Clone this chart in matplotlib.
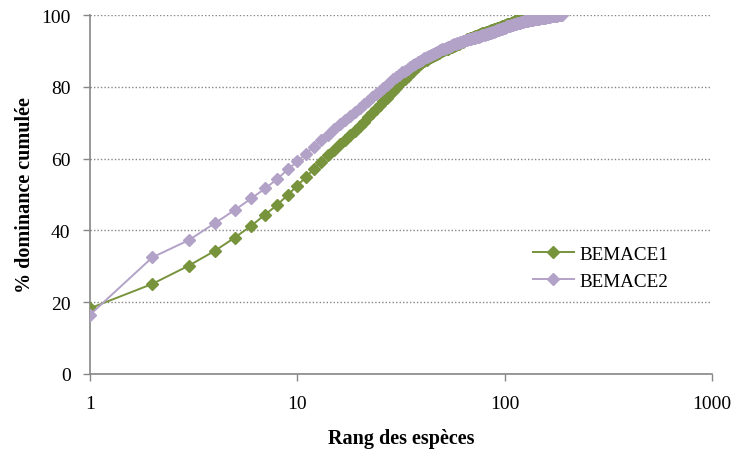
import matplotlib.pyplot as plt
from matplotlib.ticker import FixedLocator, NullLocator

# Cumulative dominance (%) by species rank
bemace1 = [18.3, 25.1, 30.2, 34.3, 38.0, 41.3, 44.4, 47.1, 49.9, 52.5,
           54.8, 57.1, 59.1, 60.9, 62.5, 64.0, 65.3, 66.5, 67.8, 69.0,
           70.3, 71.5, 72.7, 73.9, 75.0, 76.0, 77.0, 78.0, 78.9, 79.8,
           80.7, 81.5, 82.3, 83.1, 83.8, 84.5, 85.1, 85.7, 86.3, 86.8,
           87.2, 87.6, 88.0, 88.3, 88.6, 88.9, 89.2, 89.5, 89.8, 90.0,
           90.2, 90.4, 90.6, 90.8, 91.0, 91.2, 91.4, 91.6, 91.8, 92.0,
           92.2, 92.4, 92.6, 92.8, 93.0, 93.2, 93.4, 93.5, 93.7, 93.8,
           93.9, 94.1, 94.2, 94.4, 94.5, 94.6, 94.7, 94.9, 95.0, 95.1,
           95.2, 95.3, 95.4, 95.5, 95.6, 95.7, 95.8, 95.9, 96.0, 96.1,
           96.2, 96.3, 96.4, 96.5, 96.6, 96.7, 96.8, 96.9, 97.0, 97.1,
           97.2, 97.3, 97.4, 97.5, 97.6, 97.6, 97.7, 97.8, 97.9, 98.0,
           98.1, 98.2, 98.3, 98.3, 98.4, 98.5, 98.6, 98.7, 98.8, 98.8,
           98.9, 99.0, 99.0, 99.1, 99.2, 99.2, 99.3, 99.3, 99.4, 99.4,
           99.5, 99.5, 99.6, 99.6, 99.7, 99.7, 99.8, 99.8, 99.8, 99.9,
           99.9, 99.9, 99.9, 100.0, 100.0, 100.0]

bemace2 = [16.5, 32.5, 37.3, 42.0, 45.7, 48.9, 51.7, 54.3, 57.0, 59.2,
           61.4, 63.3, 65.1, 66.7, 68.2, 69.5, 70.7, 71.9, 73.0, 74.1,
           75.1, 76.1, 77.1, 78.0, 78.9, 79.8, 80.6, 81.4, 82.1, 82.8,
           83.4, 84.0, 84.5, 85.0, 85.5, 86.0, 86.4, 86.8, 87.2, 87.6,
           87.9, 88.2, 88.5, 88.8, 89.1, 89.4, 89.7, 90.0, 90.2, 90.4,
           90.6, 90.8, 91.0, 91.2, 91.4, 91.6, 91.8, 92.0, 92.1, 92.3,
           92.4, 92.5, 92.7, 92.8, 92.9, 93.0, 93.2, 93.3, 93.4, 93.5,
           93.6, 93.7, 93.8, 93.9, 94.0, 94.1, 94.2, 94.3, 94.4, 94.5,
           94.6, 94.7, 94.8, 94.9, 95.0, 95.1, 95.2, 95.3, 95.4, 95.5,
           95.6, 95.7, 95.8, 95.9, 96.0, 96.1, 96.2, 96.3, 96.4, 96.5,
           96.6, 96.7, 96.8, 96.9, 96.9, 97.0, 97.1, 97.2, 97.2, 97.3,
           97.4, 97.5, 97.5, 97.6, 97.7, 97.7, 97.8, 97.9, 97.9, 98.0,
           98.0, 98.1, 98.1, 98.2, 98.2, 98.3, 98.3, 98.4, 98.4, 98.5,
           98.5, 98.5, 98.6, 98.6, 98.7, 98.7, 98.7, 98.8, 98.8, 98.8,
           98.9, 98.9, 98.9, 99.0, 99.0, 99.0, 99.1, 99.1, 99.1, 99.2,
           99.2, 99.2, 99.2, 99.3, 99.3, 99.3, 99.3, 99.4, 99.4, 99.4,
           99.4, 99.5, 99.5, 99.5, 99.5, 99.6, 99.6, 99.6, 99.6, 99.7,
           99.7, 99.7, 99.7, 99.8, 99.8, 99.8, 99.8, 99.8, 99.9, 99.9,
           99.9, 99.9, 99.9, 100.0, 100.0, 100.0, 100.0, 100.0]

series_names = ['BEMACE1', 'BEMACE2']
x_ticks = [1, 10, 100, 1000]
y_ticks = [0, 20, 40, 60, 80, 100]

green = '#77933C'
purple = '#B3A2C7'
grey = '#868686'

plt.rcParams['font.family'] = ['Liberation Serif', 'DejaVu Serif']

fig = plt.figure(figsize=(7.37, 4.52), dpi=100)
ax = fig.add_axes([0.1221, 0.1704, 0.8440, 0.7942])

rank1 = range(1, len(bemace1) + 1)
rank2 = range(1, len(bemace2) + 1)
ax.plot(rank1, bemace1, color=green, lw=1.4, marker='D', ms=6.6,
        mec=green, mfc=green, label=series_names[0], zorder=3)
ax.plot(rank2, bemace2, color=purple, lw=1.4, marker='D', ms=6.6,
        mec=purple, mfc=purple, label=series_names[1], zorder=4)

ax.set_xscale('log')
ax.set_xlim(1, 1000)
ax.set_ylim(0, 100)
ax.xaxis.set_major_locator(FixedLocator(x_ticks))
ax.xaxis.set_minor_locator(NullLocator())
ax.set_xticklabels([str(t) for t in x_ticks])
ax.set_yticks(y_ticks)

ax.grid(axis='y', linestyle=(0, (1, 1.5)), color=grey, lw=1.0)
ax.set_axisbelow(True)
for s in ['top', 'right']:
    ax.spines[s].set_visible(False)
for s in ['left', 'bottom']:
    ax.spines[s].set_color(grey)
    ax.spines[s].set_linewidth(1.2)
ax.tick_params(axis='both', colors=grey, labelcolor='black', length=5,
               width=1.0, labelsize=14, direction='out')
ax.tick_params(axis='x', pad=10)
ax.tick_params(axis='y', pad=9)

ax.set_xlabel('Rang des espèces', fontsize=14.5, fontweight='bold', labelpad=12)
ax.set_ylabel('% dominance cumulée', fontsize=14.5, fontweight='bold', labelpad=4.5)

ax.legend(loc='center left', bbox_to_anchor=(0.685, 0.296), frameon=False,
          fontsize=13.8, handlelength=2.1, labelspacing=0.5, handletextpad=0.3)

plt.savefig('out.png', dpi=100)
